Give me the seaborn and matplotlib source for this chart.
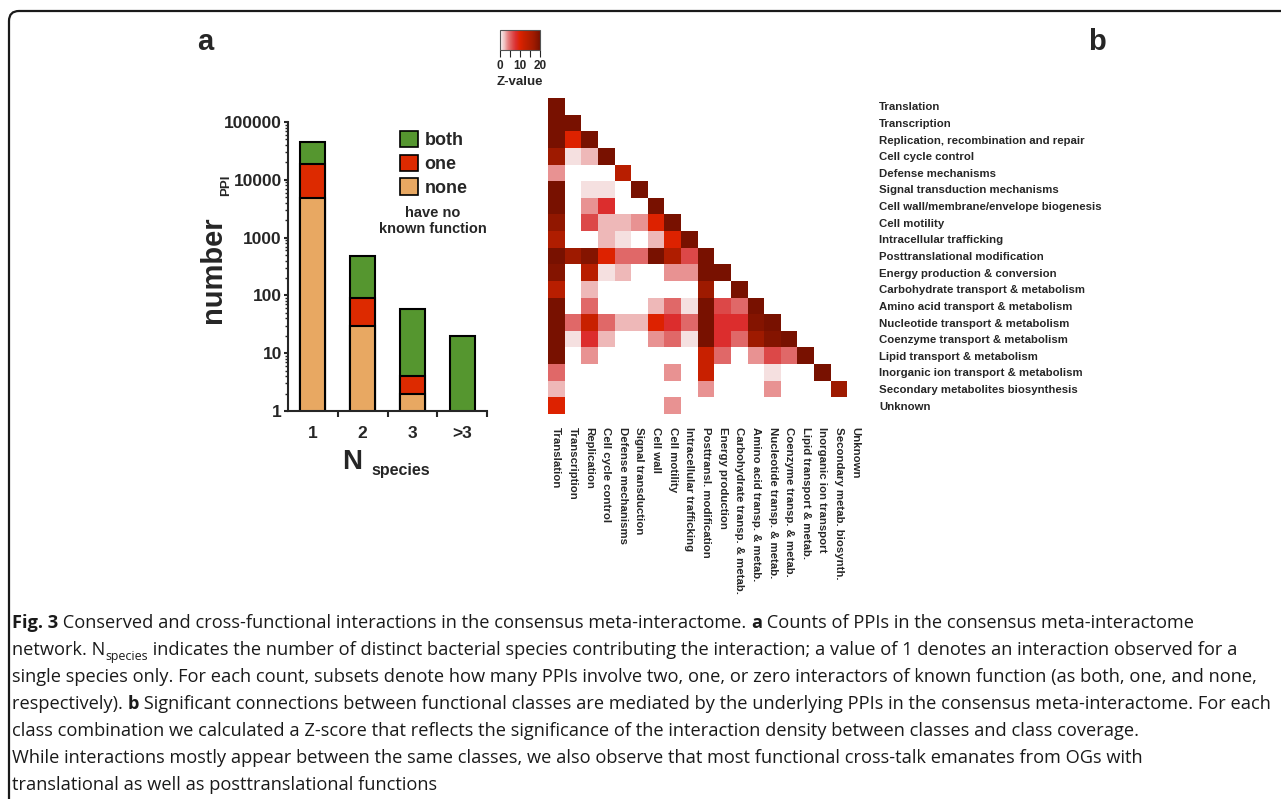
import numpy as np
import matplotlib
matplotlib.use('Agg')
import matplotlib.pyplot as plt
import seaborn as sns
from matplotlib.colors import LinearSegmentedColormap
from matplotlib.patches import Patch, FancyBboxPatch

# ---- panel a: PPI counts per number of species ----
n_species = ['1', '2', '3', '>3']
none_counts = [4800, 30, 2, 0]
one_counts = [14200, 60, 2, 0]
both_counts = [26000, 390, 55, 20]
yticks = [1, 10, 100, 1000, 10000, 100000]
ytick_labels = ['1', '10', '100', '1000', '10000', '100000']

# ---- panel b: Z-values between functional classes (lower triangle) ----
class_names = ['Translation', 'Transcription', 'Replication, recombination and repair',
               'Cell cycle control', 'Defense mechanisms', 'Signal transduction mechanisms',
               'Cell wall/membrane/envelope biogenesis', 'Cell motility', 'Intracellular trafficking',
               'Posttranslational modification', 'Energy production & conversion',
               'Carbohydrate transport & metabolism', 'Amino acid transport & metabolism',
               'Nucleotide transport & metabolism', 'Coenzyme transport & metabolism',
               'Lipid transport & metabolism', 'Inorganic ion transport & metabolism',
               'Secondary metabolites biosynthesis', 'Unknown']
class_short = ['Translation', 'Transcription', 'Replication', 'Cell cycle control',
               'Defense mechanisms', 'Signal transduction', 'Cell wall', 'Cell motility',
               'Intracellular trafficking', 'Posttransl. modification', 'Energy production',
               'Carbohydrate transp. & metab.', 'Amino acid transp. & metab.',
               'Nucleotide transp. & metab.', 'Coenzyme transp. & metab.',
               'Lipid transport & metab.', 'Inorganic ion transport',
               'Secondary metab. biosynth.', 'Unknown']
z_rows = [
    [20],
    [20, 20],
    [20, 10, 20],
    [17, 1, 2.5, 20],
    [3.5, 0, 0, 0, 14],
    [20, 0, 1, 1, 0, 20],
    [20, 0, 3.5, 8, 0, 0, 20],
    [18, 0, 6.5, 2.5, 2.5, 3.5, 10, 20],
    [15, 0, 0, 2.5, 1, 0, 2.5, 10, 20],
    [20, 17, 19, 10, 5, 5, 20, 15, 6.5, 20],
    [19, 0, 14, 1, 2.5, 0, 0, 3.5, 3.5, 20, 20],
    [14, 0, 2.5, 0, 0, 0, 0, 0, 0, 17, 0, 20],
    [20, 0, 5, 0, 0, 0, 2.5, 5, 1, 20, 6.5, 5, 20],
    [20, 5, 12, 5, 2.5, 2.5, 10, 8, 5, 20, 8, 8, 19, 20],
    [20, 1, 8, 2.5, 0, 0, 3.5, 5, 1, 20, 8, 5, 17, 19, 20],
    [20, 0, 3.5, 0, 0, 0, 0, 0, 0, 12, 5, 0, 3.5, 6.5, 5, 20],
    [5, 0, 0, 0, 0, 0, 0, 3.5, 0, 12, 0, 0, 0, 1, 0, 0, 20],
    [2.5, 0, 0, 0, 0, 0, 0, 0, 0, 3.5, 0, 0, 0, 3.5, 0, 0, 0, 17],
    [10, 0, 0, 0, 0, 0, 0, 3.5, 0, 0, 0, 0, 0, 0, 0, 0, 0, 0, 0],
]

# ---- caption ----
caption = [
    [('Fig. 3', 'b'), (' Conserved and cross-functional interactions in the consensus meta-interactome. ', 'n'),
     ('a', 'b'), (' Counts of PPIs in the consensus meta-interactome', 'n')],
    [('network. N', 'n'), ('species', 's'),
     (' indicates the number of distinct bacterial species contributing the interaction; a value of 1 denotes an interaction observed for a', 'n')],
    [('single species only. For each count, subsets denote how many PPIs involve two, one, or zero interactors of known function (as both, one, and none,', 'n')],
    [('respectively). ', 'n'), ('b', 'b'),
     (' Significant connections between functional classes are mediated by the underlying PPIs in the consensus meta-interactome. For each', 'n')],
    [('class combination we calculated a Z-score that reflects the significance of the interaction density between classes and class coverage.', 'n')],
    [('While interactions mostly appear between the same classes, we also observe that most functional cross-talk emanates from OGs with', 'n')],
    [('translational as well as posttranslational functions', 'n')],
]

sns.set_theme(style='ticks')
plt.rcParams['font.family'] = ['Liberation Sans', 'DejaVu Sans']
plt.rcParams['axes.linewidth'] = 1.5

W, H = 1281, 799
fig = plt.figure(figsize=(W / 100, H / 100), dpi=100)

def fx(px):
    return px / W

def fy(py):
    return 1 - py / H

# ---- bar chart ----
ax = fig.add_axes([fx(288), fy(411), fx(487) - fx(288), fy(122) - fy(411)])
one_cum = [a + b for a, b in zip(none_counts, one_counts)]
total = [a + b for a, b in zip(one_cum, both_counts)]
c_both, c_one, c_none = '#55962f', '#dd2a00', '#e8a862'
for vals, col in [(total, c_both), (one_cum, c_one), (none_counts, c_none)]:
    sns.barplot(x=n_species, y=vals, order=n_species, color=col, saturation=1,
                width=0.5, edgecolor='black', linewidth=1.5, ax=ax)
ax.set_yscale('log')
ax.set_ylim(1, 100000)
ax.set_xlim(-0.5, 3.5)
ax.set_yticks(yticks)
ax.set_yticklabels(ytick_labels, fontsize=12.5, fontweight='bold')
ax.tick_params(axis='y', which='major', length=3, width=1.5, pad=1.5)
ax.tick_params(axis='y', which='minor', length=2, width=1)
ax.set_xticks([0.5, 1.5, 2.5, 3.5])
ax.set_xticklabels([])
ax.set_xticks([0, 1, 2, 3], minor=True)
ax.set_xticklabels(n_species, minor=True, fontsize=12.5, fontweight='bold')
ax.tick_params(axis='x', which='major', length=4, width=1.5)
ax.tick_params(axis='x', which='minor', length=0, pad=11)
ax.set_xlabel('')
ax.set_ylabel('')
sns.despine(ax=ax)

fig.text(fx(213), fy(270), 'number', rotation=90, fontsize=21, fontweight='bold',
         ha='center', va='center')
fig.text(fx(226), fy(185), 'PPI', rotation=90, fontsize=9.5, fontweight='bold',
         ha='center', va='center')
fig.text(fx(352), fy(462), 'N', fontsize=20, fontweight='bold', ha='center', va='center')
fig.text(fx(401), fy(470), 'species', fontsize=11.5, fontweight='bold', ha='center', va='center')

handles = [Patch(facecolor=c, edgecolor='black', linewidth=1.2, label=l)
           for c, l in [(c_both, 'both'), (c_one, 'one'), (c_none, 'none')]]
fig.legend(handles=handles, loc='upper left', bbox_to_anchor=(fx(400), fy(131)),
           frameon=False, borderpad=0, borderaxespad=0, handlelength=1.0, handleheight=1.0,
           handletextpad=0.35, labelspacing=0.3, prop={'size': 13, 'weight': 'bold'})
fig.text(fx(433), fy(221), 'have no\nknown function', fontsize=10.5, fontweight='bold',
         ha='center', va='center', linespacing=1.15)

# ---- heatmap ----
n = len(class_names)
Z = np.zeros((n, n))
for i, row in enumerate(z_rows):
    Z[i, :len(row)] = row
mask = np.triu(np.ones((n, n), dtype=bool), k=1)

cmap = LinearSegmentedColormap.from_list('zval', [
    (0.0, '#ffffff'), (0.05, '#f4dede'), (0.125, '#eeb8b8'), (0.175, '#e89090'),
    (0.25, '#e06868'), (0.325, '#dc4848'), (0.4, '#dc2d2d'), (0.5, '#dd2200'),
    (0.6, '#c82000'), (0.7, '#b81e00'), (0.85, '#9e1a00'), (1.0, '#781100')])

hax = fig.add_axes([fx(548), fy(414), fx(864) - fx(548), fy(98) - fy(414)])
cax = fig.add_axes([fx(500), fy(50), fx(540) - fx(500), fy(30) - fy(50)])
sns.heatmap(Z, mask=mask, cmap=cmap, vmin=0, vmax=20, ax=hax, cbar_ax=cax,
            cbar_kws={'orientation': 'horizontal', 'ticks': [0, 10, 20]},
            xticklabels=class_short, yticklabels=class_names, linewidths=0)
hax.yaxis.tick_right()
hax.tick_params(axis='y', length=0, pad=11, labelsize=8.2, labelrotation=0)
hax.tick_params(axis='x', length=0, pad=9.5, labelsize=8.2)
for t in hax.get_yticklabels():
    t.set_fontweight('bold')
    t.set_ha('left')
for t in hax.get_xticklabels():
    t.set_fontweight('bold')
    t.set_rotation(270)
    t.set_ha('center')
    t.set_va('top')

cb = hax.collections[0].colorbar
cb.outline.set_linewidth(0.8)
cb.outline.set_edgecolor('#555555')
cax.set_xticks([5, 15], minor=True)
cax.tick_params(axis='x', which='both', length=5, width=0.8, pad=2, labelsize=8.5)
for t in cax.get_xticklabels():
    t.set_fontweight('bold')
cax.set_xlabel('Z-value', fontsize=9.5, fontweight='bold', labelpad=3)

# panel letters
fig.text(fx(205), fy(42), 'a', fontsize=21, fontweight='bold', ha='center', va='center')
fig.text(fx(1097), fy(42), 'b', fontsize=21, fontweight='bold', ha='center', va='center')

# frame
fig.add_artist(FancyBboxPatch((9, -60), 1400, H - 11 + 60, transform=None,
                              boxstyle='round,pad=0,rounding_size=10',
                              facecolor='none', edgecolor='#1a1a1a', linewidth=1.6))

# ---- caption ----
cap_font = ['Open Sans', 'DejaVu Sans']
renderer = fig.canvas.get_renderer()

def draw_line(line, x, y, size, draw=True):
    arts = []
    for txt, kind in line:
        s = size * (0.68 if kind == 's' else 1)
        dy = size * 0.3 * 100 / 72 if kind == 's' else 0
        t = fig.text(fx(x), fy(y + dy), txt, fontsize=s, family=cap_font,
                     fontweight='bold' if kind == 'b' else 'normal',
                     ha='left', va='baseline', color='#1a1a1a')
        x += t.get_window_extent(renderer).width
        arts.append(t)
    if not draw:
        for t in arts:
            t.remove()
    return x

widest = max(draw_line(line, 0, 0, 13, draw=False) for line in caption)
cap_size = 13 * 1258 / widest

y_base = 628
for line in caption:
    draw_line(line, 12, y_base, cap_size)
    y_base += 27

fig.savefig('out.png', dpi=100)
